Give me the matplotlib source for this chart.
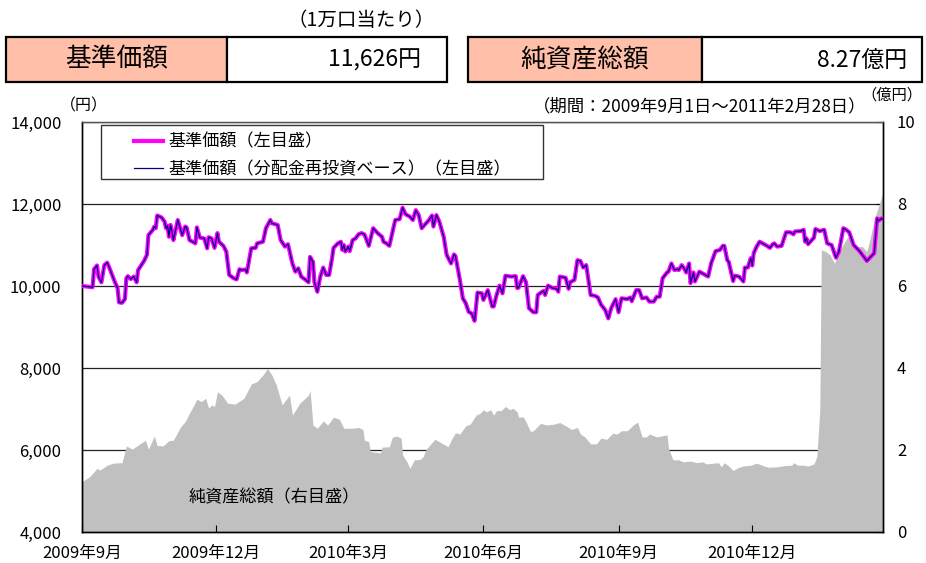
import numpy as np
import matplotlib
matplotlib.use("Agg")
import matplotlib.pyplot as plt
from matplotlib.patches import Rectangle
from matplotlib.ticker import FuncFormatter

plt.rcParams['font.family'] = ['Noto Sans CJK JP', 'DejaVu Sans']

START = np.datetime64('2009-09-01')
END = np.datetime64('2011-02-28')

# days since 2009-09-01 / NAV per 10,000 units (yen)
nav_day = [0, 7, 8, 10, 11, 13, 15, 17, 19, 22,
           24, 25, 27, 29, 30, 31, 33, 35, 37, 38,
           40, 42, 44, 45, 48, 49, 50, 51, 54, 56,
           57, 58, 59, 60, 61, 62, 65, 68, 70, 71,
           73, 75, 77, 78, 80, 83, 85, 86, 88, 90,
           92, 93, 96, 98, 100, 103, 105, 107, 108, 111,
           112, 115, 118, 119, 123, 125, 128, 129, 133, 135,
           138, 140, 143, 145, 147, 149, 152, 154, 155, 157,
           158, 160, 162, 164, 166, 168, 170, 171, 174, 176,
           177, 178, 179, 181, 182, 184, 186, 188, 190, 192,
           195, 198, 201, 204, 205, 207, 209, 211, 213, 216,
           218, 220, 223, 225, 227, 229, 231, 234, 236, 238,
           239, 241, 243, 246, 248, 251, 253, 254, 257, 259,
           261, 263, 265, 267, 269, 272, 273, 276, 279, 280,
           282, 284, 286, 288, 292, 295, 296, 297, 300, 302,
           304, 307, 309, 310, 313, 314, 315, 317, 320, 323,
           324, 325, 329, 331, 332, 335, 337, 339, 341, 343,
           346, 349, 351, 353, 356, 358, 360, 363, 365, 367,
           371, 373, 374, 377, 379, 381, 384, 386, 389, 391,
           393, 395, 398, 399, 401, 403, 405, 406, 408, 410,
           411, 413, 414, 416, 417, 420, 423, 426, 428, 431,
           434, 436, 437, 439, 440, 443, 444, 447, 450, 451,
           453, 455, 456, 457, 459, 461, 464, 466, 468, 470,
           471, 473, 476, 479, 482, 484, 485, 489, 491, 492,
           493, 494, 498, 499, 502, 505, 507, 510, 513, 515,
           518, 520, 522, 525, 529, 532, 534, 536, 539, 541,
           542, 544, 545]
nav = [10000, 9970, 10410, 10500, 10230, 10090, 10510, 10570, 10390, 10110,
       9950, 9600, 9590, 9680, 10190, 10240, 10170, 10230, 10090, 10390,
       10500, 10610, 10760, 11240, 11370, 11450, 11410, 11720, 11670, 11570,
       11410, 11470, 11200, 11490, 11340, 11120, 11610, 11240, 11450, 11430,
       11120, 11080, 11040, 11430, 11180, 11160, 10920, 11190, 11160, 10930,
       11290, 11080, 10980, 10840, 10270, 10190, 10160, 10410, 10390, 10400,
       10330, 10920, 10930, 11040, 11080, 11410, 11610, 11530, 11490, 11120,
       10960, 11020, 10550, 10350, 10430, 10230, 10150, 10090, 10710, 10590,
       10090, 9860, 10230, 10450, 10270, 10270, 10680, 10930, 11040, 11080,
       10880, 11000, 10840, 10960, 10850, 11120, 11160, 11260, 11290, 11260,
       10980, 11410, 11290, 11200, 11080, 11040, 10980, 11290, 11610, 11630,
       11910, 11750, 11690, 11610, 11850, 11730, 11410, 11530, 11610, 11720,
       11450, 11730, 11570, 11200, 10760, 10550, 10770, 10730, 10150, 9700,
       9580, 9370, 9330, 9150, 9840, 9820, 9660, 9900, 9500, 9500,
       9780, 10010, 9820, 10250, 10230, 10240, 9950, 9960, 10240, 10090,
       9460, 9360, 9360, 9780, 9860, 9880, 9780, 10010, 9950, 9930,
       9860, 10230, 10200, 9930, 10090, 10150, 10630, 10610, 10450, 10510,
       9780, 9760, 9720, 9550, 9410, 9210, 9460, 9680, 9360, 9700,
       9680, 9720, 9630, 9900, 9900, 9700, 9720, 9620, 9620, 9740,
       9740, 10190, 10330, 10350, 10550, 10390, 10410, 10390, 10510, 10410,
       10330, 10550, 10070, 10330, 10110, 10350, 10290, 10230, 10550, 10850,
       10880, 10980, 10980, 10630, 10590, 10120, 10250, 10230, 10110, 10450,
       10450, 10680, 10500, 10800, 10960, 11080, 11020, 10980, 10930, 11020,
       11040, 10960, 10980, 11310, 11310, 11260, 11330, 11340, 11370, 11080,
       11160, 11020, 11180, 11390, 11340, 11370, 11040, 11000, 10690, 10840,
       11410, 11370, 11310, 11000, 10850, 10710, 10610, 10690, 10800, 11650,
       11590, 11650, 11626]
# reinvested NAV coincides with NAV (no distributions)
nav_reinvest = list(nav)

# days since 2009-09-01 / net assets (100 million yen)
asset_day = [0, 5, 10, 12, 17, 21, 27, 30, 34, 38,
             43, 45, 49, 51, 55, 59, 62, 67, 70, 73,
             76, 78, 81, 84, 86, 88, 90, 92, 95, 99,
             104, 110, 115, 119, 123, 126, 129, 132, 136, 141,
             143, 148, 154, 155, 157, 160, 164, 167, 171, 175,
             178, 184, 188, 191, 192, 195, 196, 203, 204, 209,
             211, 214, 217, 218, 221, 223, 226, 230, 232, 234,
             240, 245, 249, 251, 254, 257, 261, 264, 268, 271,
             273, 275, 278, 280, 282, 285, 288, 291, 293, 296,
             297, 300, 302, 305, 307, 312, 316, 321, 325, 327,
             330, 333, 337, 339, 342, 346, 350, 353, 357, 361,
             364, 367, 371, 375, 378, 381, 384, 386, 391, 394,
             398, 399, 402, 406, 409, 414, 418, 422, 425, 430,
             433, 435, 437, 440, 443, 447, 450, 455, 459, 464,
             467, 473, 478, 483, 484, 487, 491, 494, 498, 500,
             502, 503, 506, 509, 512, 515, 517, 521, 527, 531,
             534, 536, 539, 543, 545]
assets = [1.23, 1.35, 1.55, 1.51, 1.63, 1.68, 1.69, 2.10, 2.02, 2.12,
          2.24, 2.02, 2.34, 2.11, 2.10, 2.23, 2.24, 2.57, 2.69, 2.90,
          3.10, 3.24, 3.18, 3.26, 3.02, 3.10, 3.06, 3.42, 3.34, 3.14,
          3.12, 3.26, 3.61, 3.67, 3.83, 3.99, 3.83, 3.59, 3.10, 3.34,
          2.85, 3.14, 3.34, 3.46, 2.61, 2.53, 2.71, 2.61, 2.80, 2.75,
          2.53, 2.53, 2.55, 2.50, 2.24, 2.20, 1.96, 1.93, 2.07, 2.08,
          2.31, 2.34, 2.29, 1.88, 1.71, 1.55, 1.76, 1.77, 1.84, 2.02,
          2.26, 2.16, 2.08, 2.24, 2.42, 2.39, 2.59, 2.63, 2.85, 2.90,
          2.98, 2.93, 2.98, 2.85, 2.96, 2.96, 3.06, 2.98, 3.02, 2.93,
          2.80, 2.81, 2.69, 2.45, 2.47, 2.65, 2.61, 2.63, 2.67, 2.63,
          2.57, 2.50, 2.55, 2.39, 2.32, 2.15, 2.15, 2.29, 2.26, 2.41,
          2.39, 2.47, 2.47, 2.61, 2.68, 2.32, 2.32, 2.39, 2.32, 2.34,
          2.37, 2.04, 1.76, 1.76, 1.71, 1.73, 1.69, 1.71, 1.66, 1.68,
          1.69, 1.59, 1.69, 1.61, 1.50, 1.58, 1.61, 1.63, 1.68, 1.61,
          1.58, 1.59, 1.62, 1.63, 1.69, 1.63, 1.63, 1.61, 1.66, 1.84,
          2.98, 6.88, 6.84, 6.76, 6.55, 6.84, 6.96, 7.20, 6.96, 6.96,
          6.84, 7.12, 7.61, 8.06, 8.27]

xtick_dates = ['2009-09-01', '2009-12-01', '2010-03-01',
               '2010-06-01', '2010-09-01', '2010-12-01']
xtick_labels = ['2009年9月', '2009年12月', '2010年3月',
                '2010年6月', '2010年9月', '2010年12月']

nav_latest = '11,626円'
assets_latest = '8.27億円'

W, H = 926, 563
fig = plt.figure(figsize=(W / 100, H / 100), dpi=100)
fig.patch.set_facecolor('white')


def fx(px):
    return px / W


def fy(py):
    return 1 - py / H


# axes: left spine at x=82, right at 883, top y=122, bottom y=532
ax = fig.add_axes([fx(82.3), fy(532), fx(883) - fx(82.3), fy(122) - fy(532)])
ax2 = ax.twinx()
ax.set_zorder(ax2.get_zorder() + 1)
ax.patch.set_visible(False)

nav_x = START + np.array(nav_day).astype('timedelta64[D]')
asset_x = START + np.array(asset_day).astype('timedelta64[D]')

# net assets area (right axis), gridlines beneath it
ax2.set_axisbelow(True)
ax2.fill_between(asset_x, assets, 0, color='#c0c0c0', lw=0, zorder=1)
ax2.set_ylim(0, 10)
ax2.set_yticks([0, 2, 4, 6, 8, 10])
ax2.yaxis.grid(True, color='#222222', lw=0.9)
ax2.tick_params(axis='y', direction='in', length=5, pad=10, labelsize=12,
                colors='black')

# NAV lines (left axis)
h1, = ax.plot(nav_x, nav, color='#ff00ff', lw=3.0, solid_joinstyle='round',
              label='基準価額（左目盛）', zorder=3)
h2, = ax.plot(nav_x, nav_reinvest, color='#000080', lw=0.9,
              label='基準価額（分配金再投資ベース）（左目盛）', zorder=4)
ax.set_ylim(4000, 14000)
ax.set_yticks(range(4000, 14001, 2000))
ax.yaxis.set_major_formatter(FuncFormatter(lambda v, p: f'{v:,.0f}'))
ax.set_xlim(START, END)
ax.set_xticks(np.array(xtick_dates, dtype='datetime64[D]'))
ax.set_xticklabels(xtick_labels)
ax.tick_params(axis='y', direction='in', length=0, pad=15, labelsize=12)
ax.tick_params(axis='x', direction='in', length=5, pad=9, labelsize=12)

for a in (ax, ax2):
    for s in ('left', 'right', 'bottom'):
        a.spines[s].set_color('black')
        a.spines[s].set_linewidth(1.0)
    a.spines['top'].set_color('#555555')
    a.spines['top'].set_linewidth(0.9)

# legend: frame drawn separately so the box is wider than its content
ax.add_patch(Rectangle((0.0234, 0.861), 0.552, 0.1317, transform=ax.transAxes,
                       facecolor='white', edgecolor='#333333', lw=1.0, zorder=5))
leg = ax.legend(handles=[h1, h2], loc='upper left',
                bbox_to_anchor=(0.0646, 0.974), frameon=False, borderpad=0,
                borderaxespad=0, handlelength=1.7, handletextpad=0.3,
                labelspacing=0.55, fontsize=12.3)
leg.set_zorder(6)

ax.text(0.24, 0.085, '純資産総額（右目盛）', transform=ax.transAxes,
        ha='center', va='center', fontsize=12.3, zorder=6)

# header boxes
box_y0, box_y1 = 37, 82.3
boxes = [(6, 226.7, 446.7, '基準価額', nav_latest, 420.7),
         (468.3, 701.7, 922, '純資産総額', assets_latest, 906.7)]
for x0, xm, x1, title, value, vx in boxes:
    fig.patches.append(Rectangle((fx(x0), fy(box_y1)), fx(xm) - fx(x0),
                                 fy(box_y0) - fy(box_y1), transform=fig.transFigure,
                                 facecolor='#ffbfa8', edgecolor='black', lw=1.6))
    fig.patches.append(Rectangle((fx(xm), fy(box_y1)), fx(x1) - fx(xm),
                                 fy(box_y0) - fy(box_y1), transform=fig.transFigure,
                                 facecolor='white', edgecolor='black', lw=1.6))
    fig.text(fx((x0 + xm) / 2), fy(60), title, ha='center', va='center',
             fontsize=18.5)
    fig.text(fx(vx), fy(60), value, ha='right', va='center', fontsize=16.5)

fig.text(fx(361), fy(21), '（1万口当たり）', ha='center', va='center', fontsize=14)
fig.text(fx(84), fy(106), '（円）', ha='center', va='center', fontsize=11.5)
fig.text(fx(700), fy(106), '（期間：2009年9月1日～2011年2月28日）',
         ha='center', va='center', fontsize=12.5)
fig.text(fx(922), fy(95), '（億円）', ha='right', va='center', fontsize=11)

fig.savefig('out.png', dpi=100, facecolor='white')
